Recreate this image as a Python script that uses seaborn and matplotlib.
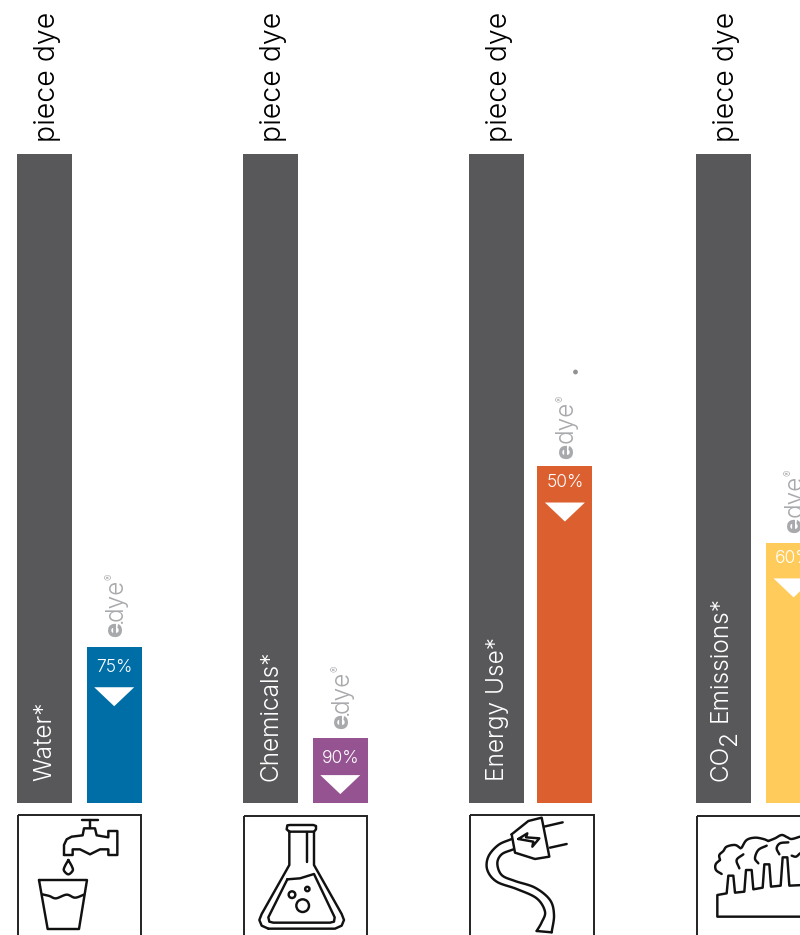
import numpy as np
import pandas as pd
import matplotlib
matplotlib.use("Agg")
import matplotlib.pyplot as plt
from matplotlib.patches import Polygon, Circle, Rectangle
import seaborn as sns

categories = ["Water*", "Chemicals*", "Energy Use*", "CO2 Emissions*"]
series_names = ["piece dye", "e.dye"]
piece_dye = [100, 100, 100, 100]
edye = [24, 10, 52, 40]
reduction_labels = ["75%", "90%", "50%", "60%"]
edye_colors = ["#006ea6", "#955391", "#dc5f30", "#ffcc5c"]
dark = "#58585a"
logo_grey = "#a7a9ac"

sns.set_theme(style="white")
FONT = "Inter"
plt.rcParams["font.family"] = [FONT, "DejaVu Sans"]

W, H = 800, 935
fig = plt.figure(figsize=(8, 9.35), dpi=100)
ax = fig.add_axes([0, 0, 1, 1])

df = pd.DataFrame({
    "category": categories * 2,
    "series": [series_names[0]] * 4 + [series_names[1]] * 4,
    "value": piece_dye + edye,
})
sns.barplot(data=df, x="category", y="value", hue="series", order=categories,
            hue_order=series_names, palette=[dark, dark], width=0.6186,
            gap=0.214, legend=False, ax=ax, saturation=1, errorbar=None, linewidth=0)
UNIT = 226.3
X0 = 79.5
ax.set_xlim(-X0 / UNIT, (W - X0) / UNIT)
PX = 6.49
ax.set_ylim(-(H - 803) / PX, 803 / PX)
ax.axis("off")
dark_nudge = [-0.3, -0.5, -0.8, 0.2]
edye_nudge = [-0.3, -0.5, -2.2, 0.2]
for patch, col, n in zip(ax.containers[1], edye_colors, edye_nudge):
    patch.set_facecolor(col)
    patch.set_x(patch.get_x() + n / UNIT)
for patch, n in zip(ax.containers[0], dark_nudge):
    patch.set_x(patch.get_x() + n / UNIT)

# overlay in pixel space for pictograms and annotations
ov = fig.add_axes([0, 0, 1, 1], facecolor="none")
ov.set_xlim(0, W)
ov.set_ylim(H, 0)
ov.axis("off")


def txt(x, y, s, size, color, weight=300):
    ov.text(x, y, s, fontsize=size, color=color, rotation=90, ha="center",
            va="bottom", fontweight=weight, family="Inter")


def to_px(bar):
    x0 = ax.transData.transform((bar.get_x(), 0))[0]
    x1 = ax.transData.transform((bar.get_x() + bar.get_width(), 0))[0]
    ytop = H - ax.transData.transform((0, bar.get_height()))[1]
    return x0, x1, ytop


LINE = 1.75
K = "#111111"


def smooth(pts, n=14, closed=False):
    p = np.asarray(pts, float)
    if closed:
        p = np.vstack([p[-1], p, p[0], p[1]])
    else:
        p = np.vstack([2 * p[0] - p[1], p, 2 * p[-1] - p[-2]])
    out = []
    for i in range(1, len(p) - 2):
        for t in np.linspace(0, 1, n, endpoint=False):
            a, b, c, d = p[i - 1], p[i], p[i + 1], p[i + 2]
            out.append(0.5 * (2 * b + (c - a) * t + (2 * a - 5 * b + 4 * c - d) * t**2
                              + (3 * b - a - 3 * c + d) * t**3))
    out.append(p[-2])
    return np.array(out)


def line(pts, is_smooth=False, closed=False):
    a = smooth(pts, closed=closed) if is_smooth else np.asarray(pts, float)
    if closed and not is_smooth:
        a = np.vstack([a, a[0]])
    ov.plot(a[:, 0], a[:, 1], color=K, lw=LINE, solid_joinstyle="round",
            solid_capstyle="round")


z1 = lambda pts: [(x / 3, 560 + y / 3) for x, y in pts]
z3 = lambda pts: [(700 + x / 3, 825 + y / 3) for x, y in pts]
z4 = lambda pts: [(470 + x / 3, 815 + y / 3) for x, y in pts]

# bars text
tri_off = [40, 37, 37, 35]
pct_off = [20, 20, 17, 15]
logo_off = [11, 10, 8, 11]
for i, (dbar, ebar) in enumerate(zip(ax.containers[0], ax.containers[1])):
    dx0, dx1, dtop = to_px(dbar)
    ex0, ex1, etop = to_px(ebar)
    cx = (dx0 + dx1) / 2
    ecx = (ex0 + ex1) / 2
    txt(cx + 3, 142, series_names[0], 20.5, "black")
    if i < 3:
        txt(cx + 1, 781, categories[i], 17.6, "white")
    # percent label and down triangle
    ov.text(ecx + 0.3, etop + pct_off[i], reduction_labels[i], fontsize=12.6, color="white",
            ha="center", va="center", fontweight=300, family="Inter")
    t = etop + tri_off[i]
    ov.add_patch(Polygon([(ecx - 20, t), (ecx + 20, t), (ecx, t + 19)], closed=True,
                         fc="white", ec="none"))
    # e.dye logo
    b = etop - logo_off[i]
    txt(ecx + 1.5, b + 1, "e", 18, logo_grey, weight=800)
    if i != 2:
        txt(ecx + 1.5, b - 13, ".", 16.5, logo_grey, weight=300)
    txt(ecx + 1.5, b - 15, "dye", 17.5, logo_grey, weight=300)
    txt(ecx - 3.5, b - 56, "®", 7, logo_grey, weight=300)

# CO2 label built from three runs, subscript nearly full size
cx = to_px(ax.containers[0][3])[0] + 27.5
txt(cx - 3, 781, "CO", 17.6, "white")
txt(cx + 6, 745, "2", 17.6, "white")
txt(cx - 3, 722, "Emissions*", 17.6, "white")

# stray dot above the energy logo
ov.add_patch(Circle((575.5, 372), 2.4, fc="#909295", ec="none"))

# icon frames
for x0, x1, y0 in [(18, 141, 815), (244, 367, 815.5), (470, 594, 814.5), (697, 815, 815.5)]:
    ov.add_patch(Rectangle((x0, y0), x1 - x0, 200, fill=False, ec="#222222", lw=1.4))

# tap and glass
line(z1([(247, 780), (293, 780)]))
line(z1([(270, 780), (270, 803)]))
line(z1([(192, 885), (192, 855), (200, 838), (215, 830), (248, 826), (252, 805), (285, 805),
         (290, 826), (325, 832), (325, 813), (352, 813), (352, 885), (325, 885), (325, 868),
         (300, 868), (270, 883), (240, 868), (218, 868), (218, 885), (192, 885)]))
line(z1([(205, 900), (194, 920), (192, 932), (205, 943), (218, 932), (216, 920), (205, 900)]), True)
line(z1([(117, 960), (261, 960), (237, 1107), (143, 1107)]), closed=True)
line(z1([(127, 1003), (148, 1008), (168, 1015), (200, 1004), (225, 1013), (252, 1004)]), True)

# flask
line(z1([(868, 815), (868, 915), (785, 1062), (778, 1080), (785, 1097), (805, 1106)]))
line(z1([(805, 1106), (1005, 1106), (1025, 1097), (1032, 1080), (1025, 1062), (942, 915),
         (942, 815)]))
line(z1([(868, 815), (860, 808), (862, 796), (870, 795), (940, 795), (948, 798), (948, 808),
         (942, 815), (868, 815)]))
line(z1([(920, 815), (920, 905)]))
line(z1([(862, 958), (805, 1072), (808, 1085), (820, 1088), (990, 1088), (1002, 1085), (1004, 1072),
         (942, 942), (900, 955), (862, 958)]))
for zx, zy, zr in [(876, 1004, 10), (922, 987, 6.5), (908, 1037, 19)]:
    (px, py), = z1([(zx, zy)])
    ov.add_patch(Circle((px, py), zr / 3, fill=False, ec=K, lw=LINE))

# plug
line(z4([(125, 58), (175, 18), (215, 8), (238, 125), (195, 132), (135, 113)]), closed=True)
line(z4([(222, 35), (278, 22)]))
line(z4([(240, 98), (290, 87)]))
line(z4([(145, 72), (172, 55), (168, 67), (208, 70), (187, 95), (190, 80)]), closed=True)
line(z4([(125, 72), (85, 90), (55, 125), (52, 165), (80, 200), (140, 222), (200, 250), (225, 290),
         (215, 322), (200, 348)]), True)
line(z4([(130, 103), (95, 118), (82, 145), (95, 180), (135, 198), (195, 218), (240, 255), (252, 300),
         (245, 352)]), True)
line(z4([(200, 348), (245, 352)]))

# factory
line(z3([(310, 275), (52, 275), (52, 210), (80, 205), (85, 152), (100, 152), (105, 203), (133, 200),
         (138, 135), (155, 135), (160, 193), (188, 188), (193, 118), (208, 118), (213, 185),
         (242, 182), (248, 97), (262, 97), (268, 182), (310, 180)]))
line(z3([(65, 147), (48, 135), (47, 118), (60, 105)]), True)
line(z3([(60, 105), (58, 90), (70, 78), (80, 65), (105, 60), (122, 70)]), True)
line(z3([(125, 68), (140, 45), (165, 38), (190, 42), (205, 48)]), True)
line(z3([(205, 48), (225, 40), (245, 30), (262, 37), (275, 42), (300, 35)]), True)
line(z3([(130, 88), (110, 105), (118, 130)]), True)
line(z3([(200, 62), (175, 75), (165, 100), (175, 115)]), True)
line(z3([(265, 52), (240, 55), (230, 70), (238, 88)]), True)
line(z3([(275, 92), (288, 95), (300, 85)]), True)
ov.set_xlim(0, W)
ov.set_ylim(H, 0)

fig.savefig("out.png", dpi=100)
